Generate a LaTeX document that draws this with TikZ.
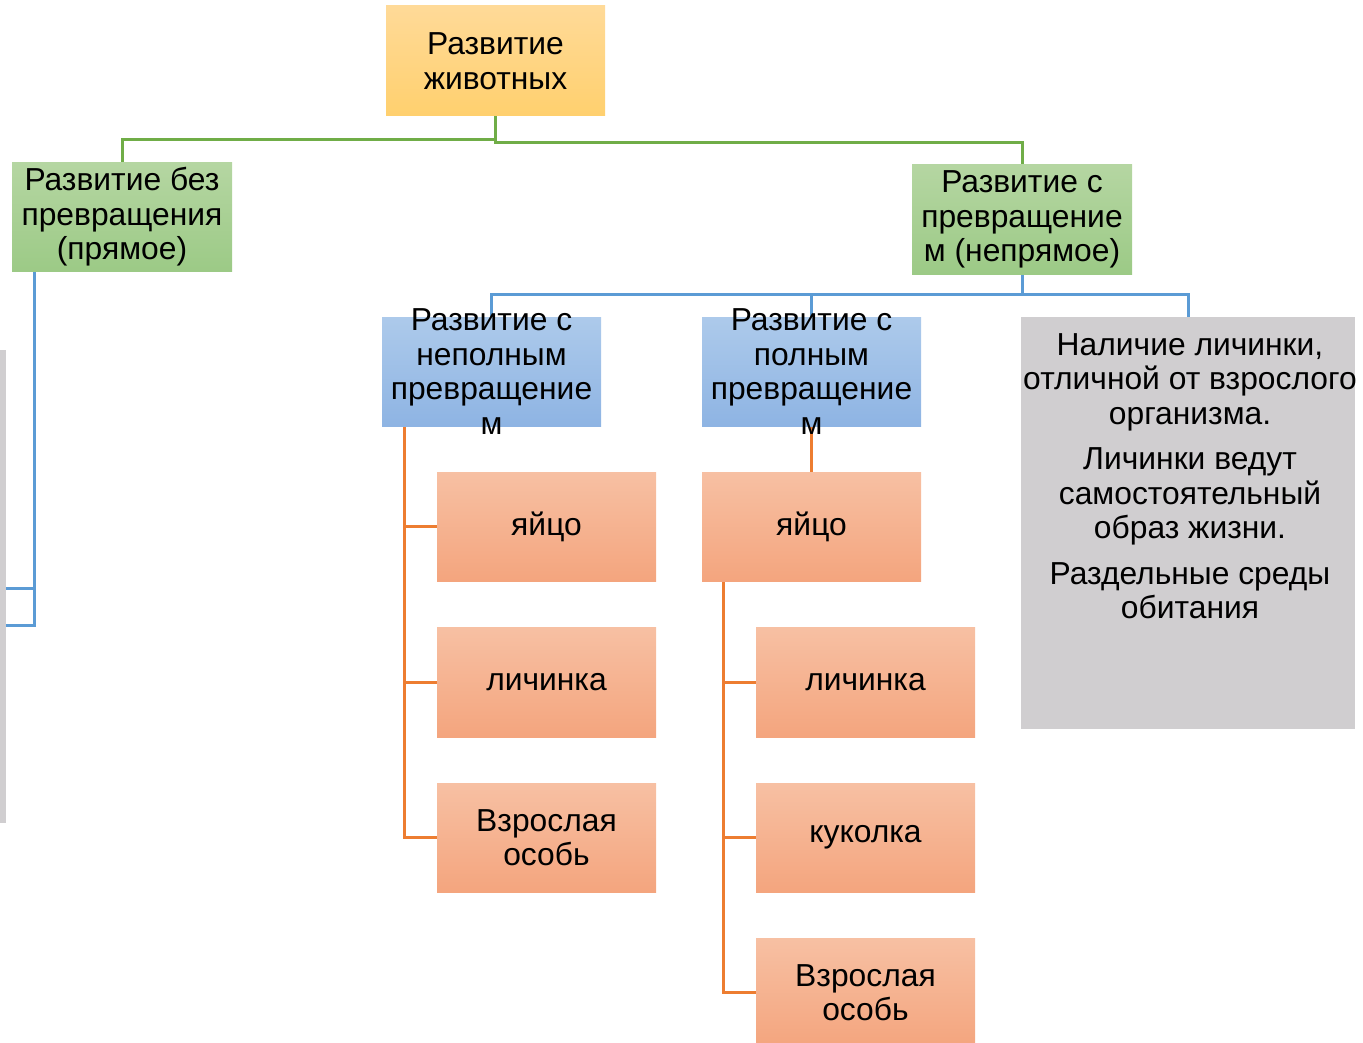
\documentclass[tikz,border=0pt]{standalone}
\usepackage{fontspec}
\setmainfont{Liberation Sans}
\usetikzlibrary{backgrounds}
\newcommand{\mfs}{\fontsize{31.8}{34.5}\selectfont}
\definecolor{oTop}{HTML}{FFDA98}
\definecolor{oBot}{HTML}{FFD06E}
\definecolor{gTop}{HTML}{B5D6A2}
\definecolor{gBot}{HTML}{9CCA86}
\definecolor{bTop}{HTML}{ADCAEB}
\definecolor{bBot}{HTML}{8EB4E3}
\definecolor{rTop}{HTML}{F7C0A3}
\definecolor{rBot}{HTML}{F4A57E}
\definecolor{greyF}{HTML}{D0CED0}
\definecolor{gLine}{HTML}{70AD47}
\definecolor{bLine}{HTML}{5B9BD5}
\definecolor{oLine}{HTML}{ED7D31}
\tikzset{
  box/.style={rectangle, inner sep=0pt, minimum width=219pt, minimum height=109pt, font=\mfs, align=center},
  topbox/.style={box, top color=oTop, bottom color=oBot},
  greenbox/.style={box, minimum width=220pt, top color=gTop, bottom color=gBot},
  bluebox/.style={box, top color=bTop, bottom color=bBot},
  orbox/.style={box, top color=rTop, bottom color=rBot},
  txt/.style={font=\mfs, align=center, inner sep=0pt},
  gline/.style={draw=gLine, line width=3pt},
  bline/.style={draw=bLine, line width=3pt},
  oline/.style={draw=oLine, line width=3pt},
}
\begin{document}
\begin{tikzpicture}[x=1pt,y=-1pt]
\useasboundingbox (0,0) rectangle (1363,1043);
\clip (0,0) rectangle (1363,1043);
% nodes
\node[topbox, minimum height=110pt] (top) at (495.5,61) {Развитие\\животных};
\node[greenbox] (lgreen) at (122,217) {Развитие без\\превращения\\(прямое)};
\node[greenbox] (rgreen) at (1022,219.5) {Развитие с\\превращение\\м (непрямое)};
\node[bluebox] (blue1) at (491.5,371.5) {};
\node[txt] (b1t) at (blue1.center) {Развитие с\\неполным\\превращение\\м};
\node[bluebox] (blue2) at (811.5,371.5) {};
\node[txt] (b2t) at (blue2.center) {Развитие с\\полным\\превращение\\м};
\node[rectangle, inner sep=0pt, fill=greyF, minimum width=334pt, minimum height=412pt] (grey) at (1188,523) {};
\node[txt, anchor=north] (greyt) at (1190,333)
  {Наличие личинки,\\отличной от взрослого\\организма.\\[11pt]Личинки ведут\\самостоятельный\\образ жизни.\\[11pt]Раздельные среды\\обитания};
\node[rectangle, inner sep=0pt, fill=greyF, minimum width=6pt, minimum height=473pt] (lgrey) at (3,586.5) {};
\node[orbox] (o1a) at (546.5,526.5) {яйцо};
\node[orbox, minimum height=110pt] (o1b) at (546.5,682) {личинка};
\node[orbox] (o1c) at (546.5,837.5) {Взрослая\\особь};
\node[orbox] (o2a) at (811.5,526.5) {яйцо};
\node[orbox, minimum height=110pt] (o2b) at (865.5,682) {личинка};
\node[orbox] (o2c) at (865.5,837.5) {куколка};
\node[orbox] (o2d) at (865.5,992.5) {Взрослая\\особь};
% connectors
\begin{scope}[on background layer]
\draw[gline] (top.south) -- ++(0,23) -| (lgreen.north);
\draw[gline] (top.south) -- ++(0,26) -| (rgreen.north);
\draw[bline] (rgreen.south) -- ++(0,20) -| (blue1.north);
\draw[bline] (rgreen.south) -- ++(0,20) -| (blue2.north);
\draw[bline] (rgreen.south) -- ++(0,20) -| (grey.north);
\draw[bline] ([xshift=23pt]lgreen.south west) |- ([yshift=-38.5pt]lgrey.east);
\draw[bline] ([xshift=23pt]lgreen.south west) |- ([yshift=-1.5pt]lgrey.east);
\draw[oline] ([xshift=23pt]blue1.south west) |- (o1a.west);
\draw[oline] ([xshift=23pt]blue1.south west) |- (o1b.west);
\draw[oline] ([xshift=23pt]blue1.south west) |- (o1c.west);
\draw[oline] (blue2.south) -- (o2a.north);
\draw[oline] ([xshift=22pt]o2a.south west) |- (o2b.west);
\draw[oline] ([xshift=22pt]o2a.south west) |- (o2c.west);
\draw[oline] ([xshift=22pt]o2a.south west) |- (o2d.west);
\end{scope}
\end{tikzpicture}
\end{document}
